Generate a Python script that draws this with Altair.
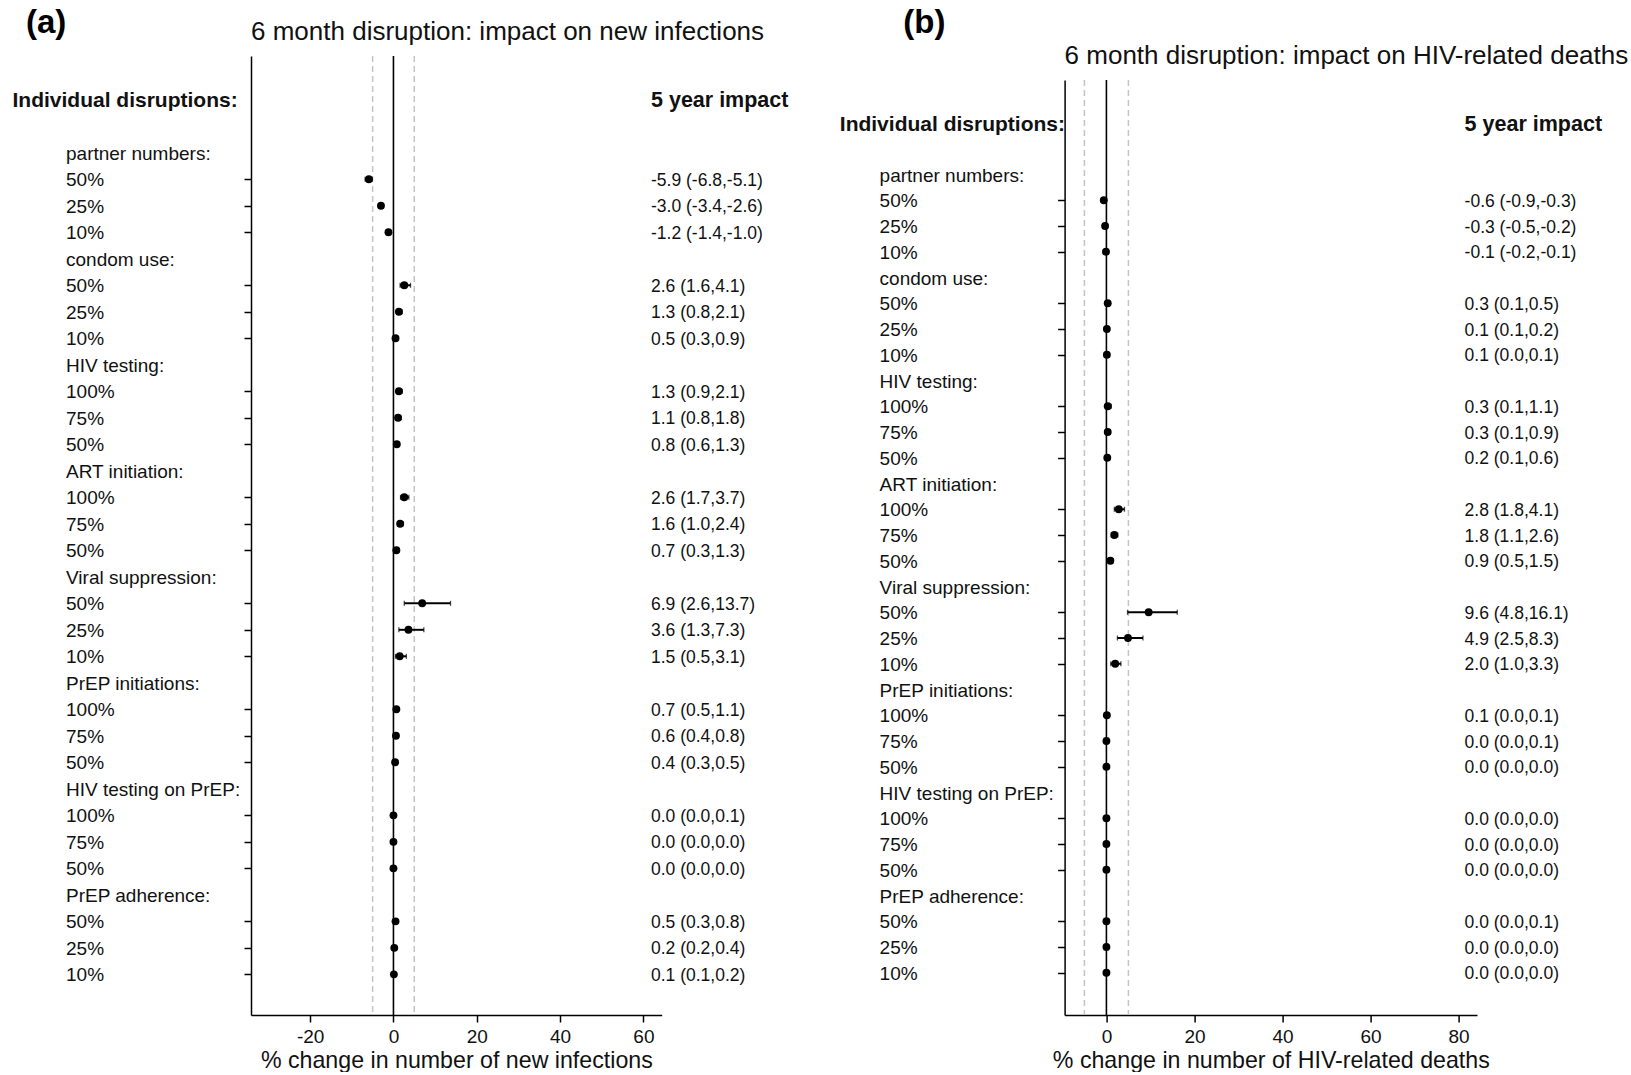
import altair as alt
import pandas as pd

# ---- data -------------------------------------------------------------
groups = ["partner numbers:", "condom use:", "HIV testing:", "ART initiation:",
          "Viral suppression:", "PrEP initiations:", "HIV testing on PrEP:",
          "PrEP adherence:"]
levels = [["50%", "25%", "10%"], ["50%", "25%", "10%"], ["100%", "75%", "50%"],
          ["100%", "75%", "50%"], ["50%", "25%", "10%"], ["100%", "75%", "50%"],
          ["100%", "75%", "50%"], ["50%", "25%", "10%"]]

# % change in new infections (estimate, lower, upper)
inf_est = [-5.9, -3.0, -1.2, 2.6, 1.3, 0.5, 1.3, 1.1, 0.8, 2.6, 1.6, 0.7,
           6.9, 3.6, 1.5, 0.7, 0.6, 0.4, 0.0, 0.0, 0.0, 0.5, 0.2, 0.1]
inf_lo = [-6.8, -3.4, -1.4, 1.6, 0.8, 0.3, 0.9, 0.8, 0.6, 1.7, 1.0, 0.3,
          2.6, 1.3, 0.5, 0.5, 0.4, 0.3, 0.0, 0.0, 0.0, 0.3, 0.2, 0.1]
inf_hi = [-5.1, -2.6, -1.0, 4.1, 2.1, 0.9, 2.1, 1.8, 1.3, 3.7, 2.4, 1.3,
          13.7, 7.3, 3.1, 1.1, 0.8, 0.5, 0.1, 0.0, 0.0, 0.8, 0.4, 0.2]

# % change in HIV-related deaths (estimate, lower, upper)
death_est = [-0.6, -0.3, -0.1, 0.3, 0.1, 0.1, 0.3, 0.3, 0.2, 2.8, 1.8, 0.9,
             9.6, 4.9, 2.0, 0.1, 0.0, 0.0, 0.0, 0.0, 0.0, 0.0, 0.0, 0.0]
death_lo = [-0.9, -0.5, -0.2, 0.1, 0.1, 0.0, 0.1, 0.1, 0.1, 1.8, 1.1, 0.5,
            4.8, 2.5, 1.0, 0.0, 0.0, 0.0, 0.0, 0.0, 0.0, 0.0, 0.0, 0.0]
death_hi = [-0.3, -0.2, -0.1, 0.5, 0.2, 0.1, 1.1, 0.9, 0.6, 4.1, 2.6, 1.5,
            16.1, 8.3, 3.3, 0.1, 0.1, 0.0, 0.0, 0.0, 0.0, 0.1, 0.0, 0.0]

inf_ticks = [-20, 0, 20, 40, 60]
death_ticks = [0, 20, 40, 60, 80]

FONT = "Liberation Sans"
INK = "#111111"

# ---- row layout (row 0 = column headers, each group = header + 3 rows) --
lab_rows, lab_text = [], []
for g, (name, levs) in enumerate(zip(groups, levels)):
    lab_rows.append(2 + 4 * g)
    lab_text.append(name)
    for k, lv in enumerate(levs):
        lab_rows.append(3 + 4 * g + k)
        lab_text.append(lv)
data_rows = [3 + 4 * g + k for g in range(len(groups)) for k in range(3)]
labels_df = pd.DataFrame({"row": lab_rows, "text": lab_text})


def panel(est, lo, hi, x_dom, x_ticks, width, y_dom, y_rng, title, x_title,
          tag, tag_x, head_x, title_y):
    est_df = pd.DataFrame({
        "row": data_rows, "est": est, "lo": lo, "hi": hi,
        "txt": [f"{e:.1f} ({a:.1f},{b:.1f})" for e, a, b in zip(est, lo, hi)],
    })
    xs = alt.Scale(domain=x_dom, nice=False, zero=False)
    xa = alt.Axis(values=x_ticks, title=x_title, grid=False,
                  labelExpr="'' + datum.value",
                  domainColor="black", domainWidth=1.5, tickColor="black",
                  tickWidth=1.5, tickSize=7, labelFont=FONT, labelFontSize=19,
                  labelColor=INK, labelPadding=5, titleFont=FONT,
                  titleFontSize=23.2, titleFontWeight="normal",
                  titleColor=INK, titlePadding=3)
    ys = alt.Scale(domain=y_dom, range=y_rng, nice=False, zero=False)
    ya = alt.Axis(values=data_rows, labels=False, title=None, grid=False,
                  domainColor="black", domainWidth=1.5, tickColor="black",
                  tickWidth=1.5, tickSize=7)

    def X(f):
        return alt.X(f, type="quantitative", scale=xs, axis=xa)

    def Y(f):
        return alt.Y(f, type="quantitative", scale=ys, axis=ya)

    ref_df = pd.DataFrame({"x": [-5, 5], "y0": [y_dom[0]] * 2, "y1": [y_dom[1]] * 2})
    zero_df = pd.DataFrame({"x": [0], "y0": [y_dom[0]], "y1": [y_dom[1]]})

    dashed = alt.Chart(ref_df).mark_rule(
        color="#c4c4c4", strokeWidth=1.5, strokeDash=[6, 4]
    ).encode(x=X("x"), y=Y("y0"), y2="y1")
    zero = alt.Chart(zero_df).mark_rule(color="black", strokeWidth=1.6).encode(
        x=X("x"), y=Y("y0"), y2="y1")

    base = alt.Chart(est_df)
    ci = base.mark_rule(color="black", strokeWidth=2).encode(
        x=X("lo"), x2="hi", y=Y("row"))
    cap_lo = base.mark_tick(color="black", orient="vertical", size=5,
                            thickness=1.3).encode(x=X("lo"), y=Y("row"))
    cap_hi = base.mark_tick(color="black", orient="vertical", size=5,
                            thickness=1.3).encode(x=X("hi"), y=Y("row"))
    pts = base.mark_circle(color="black", opacity=1, size=62).encode(
        x=X("est"), y=Y("row"))
    vals = base.mark_text(align="left", baseline="middle", font=FONT,
                          fontSize=17.5, color=INK, dy=1.5).encode(
        x=alt.value(400), y=Y("row"), text="txt:N")

    labs = alt.Chart(labels_df).mark_text(
        align="left", baseline="middle", font=FONT, fontSize=19, color=INK,
        dy=1
    ).encode(x=alt.value(-185), y=Y("row"), text="text:N")

    head_df = pd.DataFrame({"row": [0], "text": ["Individual disruptions:"]})
    impact_df = pd.DataFrame({"row": [0], "text": ["5 year impact"]})
    head = alt.Chart(head_df).mark_text(
        align="left", baseline="middle", font=FONT, fontSize=21,
        fontWeight="bold", color=INK, dy=1.5
    ).encode(x=alt.value(head_x), y=Y("row"), text="text:N")
    impact = alt.Chart(impact_df).mark_text(
        align="left", baseline="middle", font=FONT, fontSize=21.5,
        fontWeight="bold", color=INK, dy=1.5
    ).encode(x=alt.value(400), y=Y("row"), text="text:N")

    title_mark = alt.Chart(pd.DataFrame({"t": [title]})).mark_text(
        align="left", baseline="middle", font=FONT, fontSize=26, color=INK
    ).encode(x=alt.value(0), y=alt.value(title_y), text="t:N")
    tag_mark = alt.Chart(pd.DataFrame({"t": [tag]})).mark_text(
        align="left", baseline="top", font=FONT, fontSize=33,
        fontWeight="bold", color="black", dy=2
    ).encode(x=alt.value(tag_x), y=alt.value(-51), text="t:N")

    return alt.layer(dashed, zero, ci, cap_lo, cap_hi, pts, vals, labs, head,
                     impact, title_mark, tag_mark).properties(width=width,
                                                              height=959)


left = panel(inf_est, inf_lo, inf_hi, [-34.2, 64.4], inf_ticks, 410.7,
             [-1.652, 34.535], [0, 959],
             "6 month disruption: impact on new infections",
             "% change in number of new infections",
             "(a)", -225, -238.5, -24)

right = panel(death_est, death_lo, death_hi, [-9.5, 84.2], death_ticks, 412.4,
              [-1.670, 34.64], [24, 959],
              "6 month disruption: impact on HIV-related deaths",
              "% change in number of HIV-related deaths",
              "(b)", -161.3, -224.8, 0)

chart = alt.hconcat(left, right, spacing=402.6, bounds="flush").properties(
    padding={"left": 12, "top": 6, "right": 0, "bottom": 0},
    background="white",
).configure_view(stroke="transparent")

chart.save("out.html", embed_options={"renderer": "svg", "actions": False})
